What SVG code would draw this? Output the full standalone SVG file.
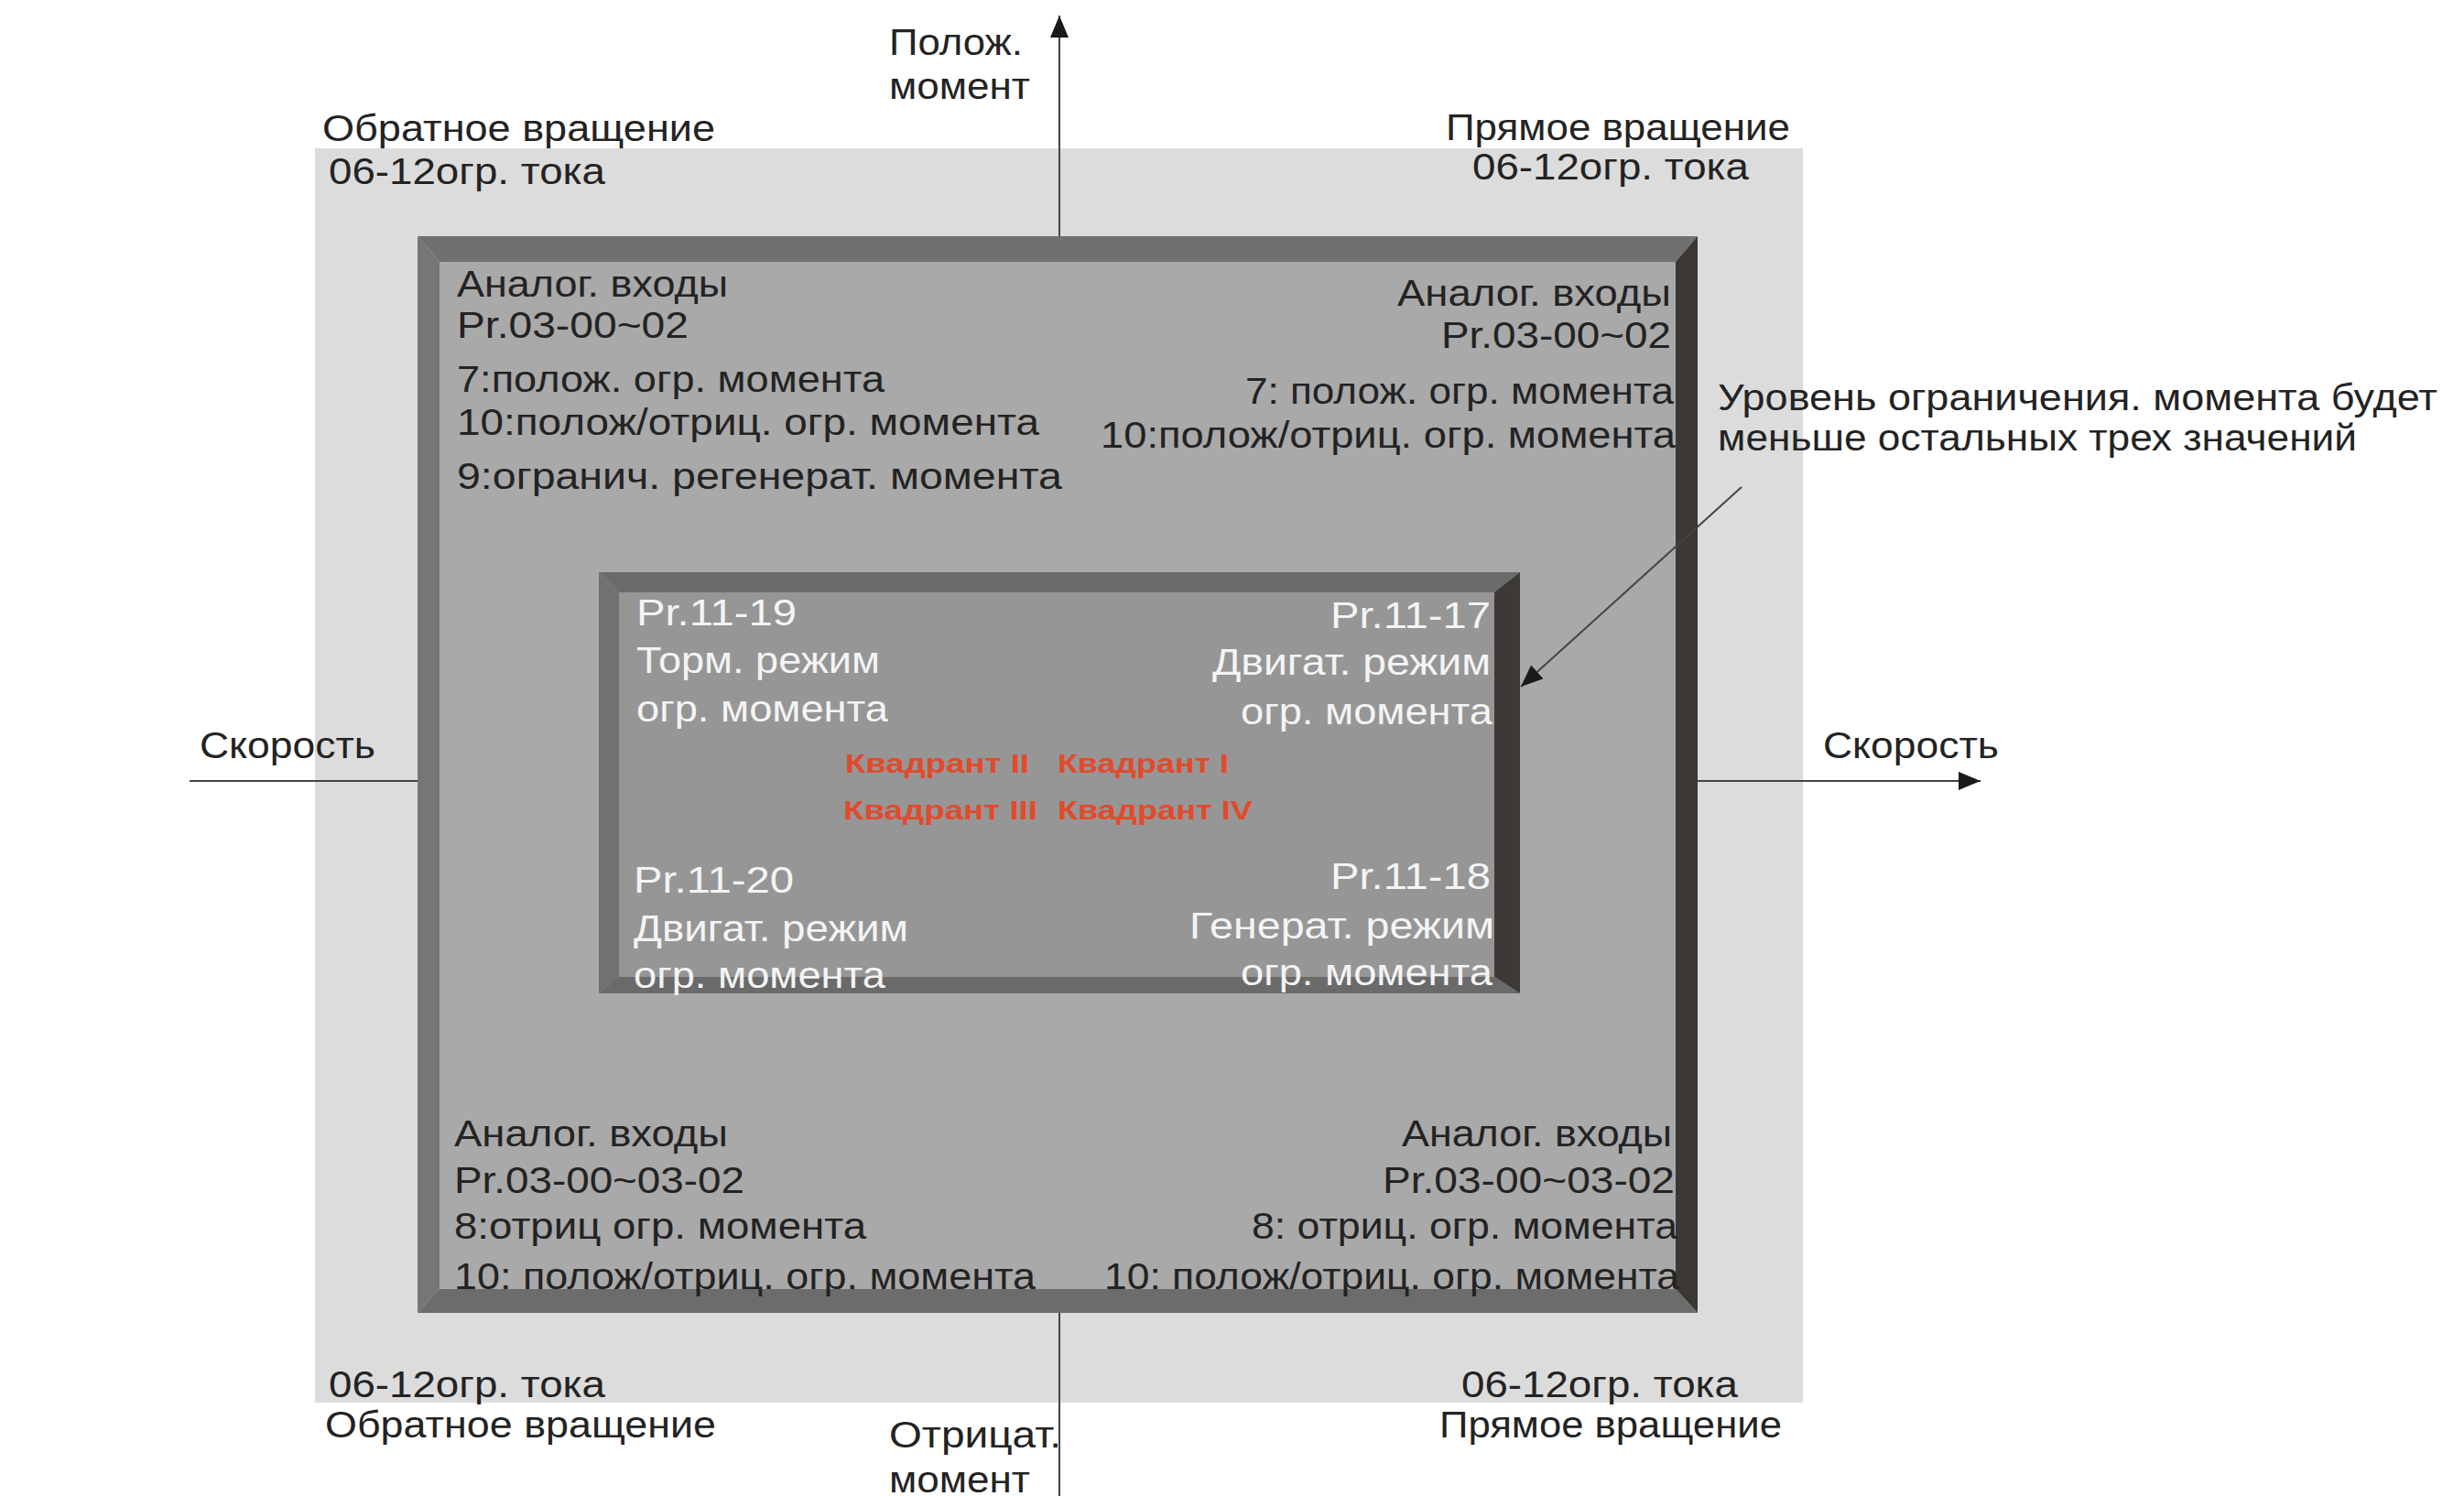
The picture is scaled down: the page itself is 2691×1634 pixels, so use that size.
<svg xmlns="http://www.w3.org/2000/svg" width="2691" height="1634" viewBox="0 0 2691 1634">
<defs>
<marker id="ah" markerUnits="userSpaceOnUse" markerWidth="26" markerHeight="22" refX="24" refY="10" orient="auto">
<path d="M0,0 L24,10 L0,20 z" fill="#1a1a1a"/>
</marker>
<style>
.t{font-family:"Liberation Sans",Arial,sans-serif;font-size:40px;fill:#232323}
.w{font-family:"Liberation Sans",Arial,sans-serif;font-size:40px;fill:#f4f4f4}
.r{font-family:"Liberation Sans",Arial,sans-serif;font-size:29px;font-weight:bold;fill:#e24a2b}
.e{text-anchor:end}
.ax{stroke:#444;stroke-width:2;fill:none}
</style>
</defs>
<rect width="2691" height="1634" fill="#ffffff"/>
<g id="outer-zone">
<rect x="344" y="162" width="1625" height="1370" fill="#dcdcdc"/>
</g>
<g id="middle-frame">
<rect x="480" y="286" width="1350" height="1122" fill="#a9a9a9"/>
<polygon points="456,258 1854,258 1830,286 480,286" fill="#707070"/>
<polygon points="456,258 480,286 480,1408 456,1434" fill="#767676"/>
<polygon points="1854,258 1854,1434 1830,1408 1830,286" fill="#3b3834"/>
<polygon points="456,1434 480,1408 1830,1408 1854,1434" fill="#6c6c6c"/>
</g>
<g id="inner-frame">
<rect x="676" y="647" width="956" height="420" fill="#969696"/>
<polygon points="654,625 1660,625 1632,647 676,647" fill="#6b6b6b"/>
<polygon points="654,625 676,647 676,1067 654,1085" fill="#717171"/>
<polygon points="1660,625 1660,1085 1632,1067 1632,647" fill="#3c3936"/>
<polygon points="654,1085 676,1067 1632,1067 1660,1085" fill="#6a6a6a"/>
</g>
<g id="connectors">
<line class="ax" x1="1157" y1="258" x2="1157" y2="17" marker-end="url(#ah)"/>
<line class="ax" x1="1157" y1="1434" x2="1157" y2="1634"/>
<line class="ax" x1="207" y1="853" x2="456" y2="853"/>
<line class="ax" x1="1854" y1="853" x2="2163" y2="853" marker-end="url(#ah)"/>
<line class="ax" x1="1902" y1="532" x2="1661" y2="750" marker-end="url(#ah)"/>
</g>
<g id="axis-labels">
<text class="t" x="971" y="60" textLength="146" lengthAdjust="spacingAndGlyphs">Полож.</text>
<text class="t" x="971" y="108" textLength="154" lengthAdjust="spacingAndGlyphs">момент</text>
<text class="t" x="971" y="1581" textLength="188" lengthAdjust="spacingAndGlyphs">Отрицат.</text>
<text class="t" x="971" y="1630" textLength="154" lengthAdjust="spacingAndGlyphs">момент</text>
<text class="t" x="218" y="828" textLength="192" lengthAdjust="spacingAndGlyphs">Скорость</text>
<text class="t" x="1991" y="828" textLength="192" lengthAdjust="spacingAndGlyphs">Скорость</text>
</g>
<g id="corner-labels">
<text class="t" x="352" y="154" textLength="429" lengthAdjust="spacingAndGlyphs">Обратное вращение</text>
<text class="t" x="359" y="201" textLength="302" lengthAdjust="spacingAndGlyphs">06-12огр. тока</text>
<text class="t" x="1579" y="153" textLength="376" lengthAdjust="spacingAndGlyphs">Прямое вращение</text>
<text class="t" x="1608" y="196" textLength="302" lengthAdjust="spacingAndGlyphs">06-12огр. тока</text>
<text class="t" x="359" y="1526" textLength="302" lengthAdjust="spacingAndGlyphs">06-12огр. тока</text>
<text class="t" x="355" y="1570" textLength="427" lengthAdjust="spacingAndGlyphs">Обратное вращение</text>
<text class="t" x="1596" y="1526" textLength="302" lengthAdjust="spacingAndGlyphs">06-12огр. тока</text>
<text class="t" x="1572" y="1570" textLength="374" lengthAdjust="spacingAndGlyphs">Прямое вращение</text>
</g>
<g id="note">
<text class="t" x="1876" y="448" textLength="786" lengthAdjust="spacingAndGlyphs">Уровень ограничения. момента будет</text>
<text class="t" x="1876" y="492" textLength="698" lengthAdjust="spacingAndGlyphs">меньше остальных трех значений</text>
</g>
<g id="analog-top-left">
<text class="t" x="499" y="324" textLength="296" lengthAdjust="spacingAndGlyphs">Аналог. входы</text>
<text class="t" x="499" y="369" textLength="253" lengthAdjust="spacingAndGlyphs">Pr.03-00~02</text>
<text class="t" x="499" y="428" textLength="467" lengthAdjust="spacingAndGlyphs">7:полож. огр. момента</text>
<text class="t" x="499" y="475" textLength="636" lengthAdjust="spacingAndGlyphs">10:полож/отриц. огр. момента</text>
<text class="t" x="499" y="534" textLength="661" lengthAdjust="spacingAndGlyphs">9:огранич. регенерат. момента</text>
</g>
<g id="analog-top-right">
<text class="t e" x="1825" y="334" textLength="299" lengthAdjust="spacingAndGlyphs">Аналог. входы</text>
<text class="t e" x="1825" y="380" textLength="251" lengthAdjust="spacingAndGlyphs">Pr.03-00~02</text>
<text class="t e" x="1828" y="441" textLength="468" lengthAdjust="spacingAndGlyphs">7: полож. огр. момента</text>
<text class="t e" x="1830" y="489" textLength="628" lengthAdjust="spacingAndGlyphs">10:полож/отриц. огр. момента</text>
</g>
<g id="analog-bottom-left">
<text class="t" x="496" y="1252" textLength="299" lengthAdjust="spacingAndGlyphs">Аналог. входы</text>
<text class="t" x="496" y="1303" textLength="317" lengthAdjust="spacingAndGlyphs">Pr.03-00~03-02</text>
<text class="t" x="496" y="1353" textLength="450" lengthAdjust="spacingAndGlyphs">8:отриц огр. момента</text>
<text class="t" x="496" y="1408" textLength="635" lengthAdjust="spacingAndGlyphs">10: полож/отриц. огр. момента</text>
</g>
<g id="analog-bottom-right">
<text class="t e" x="1826" y="1252" textLength="295" lengthAdjust="spacingAndGlyphs">Аналог. входы</text>
<text class="t e" x="1829" y="1303" textLength="319" lengthAdjust="spacingAndGlyphs">Pr.03-00~03-02</text>
<text class="t e" x="1832" y="1353" textLength="465" lengthAdjust="spacingAndGlyphs">8: отриц. огр. момента</text>
<text class="t e" x="1834" y="1408" textLength="628" lengthAdjust="spacingAndGlyphs">10: полож/отриц. огр. момента</text>
</g>
<g id="limit-q2">
<text class="w" x="695" y="683" textLength="175" lengthAdjust="spacingAndGlyphs">Pr.11-19</text>
<text class="w" x="695" y="735" textLength="266" lengthAdjust="spacingAndGlyphs">Торм. режим</text>
<text class="w" x="695" y="788" textLength="275" lengthAdjust="spacingAndGlyphs">огр. момента</text>
</g>
<g id="limit-q1">
<text class="w e" x="1628" y="686" textLength="175" lengthAdjust="spacingAndGlyphs">Pr.11-17</text>
<text class="w e" x="1628" y="737" textLength="304" lengthAdjust="spacingAndGlyphs">Двигат. режим</text>
<text class="w e" x="1630" y="791" textLength="275" lengthAdjust="spacingAndGlyphs">огр. момента</text>
</g>
<g id="limit-q3">
<text class="w" x="692" y="975" textLength="175" lengthAdjust="spacingAndGlyphs">Pr.11-20</text>
<text class="w" x="692" y="1028" textLength="300" lengthAdjust="spacingAndGlyphs">Двигат. режим</text>
<text class="w" x="692" y="1079" textLength="275" lengthAdjust="spacingAndGlyphs">огр. момента</text>
</g>
<g id="limit-q4">
<text class="w e" x="1628" y="971" textLength="175" lengthAdjust="spacingAndGlyphs">Pr.11-18</text>
<text class="w e" x="1632" y="1025" textLength="333" lengthAdjust="spacingAndGlyphs">Генерат. режим</text>
<text class="w e" x="1630" y="1076" textLength="275" lengthAdjust="spacingAndGlyphs">огр. момента</text>
</g>
<g id="quadrants">
<text class="r" x="923" y="844" textLength="201" lengthAdjust="spacingAndGlyphs">Квадрант II</text>
<text class="r" x="1155" y="844" textLength="187" lengthAdjust="spacingAndGlyphs">Квадрант I</text>
<text class="r" x="921" y="895" textLength="212" lengthAdjust="spacingAndGlyphs">Квадрант III</text>
<text class="r" x="1155" y="895" textLength="213" lengthAdjust="spacingAndGlyphs">Квадрант IV</text>
</g>
</svg>
